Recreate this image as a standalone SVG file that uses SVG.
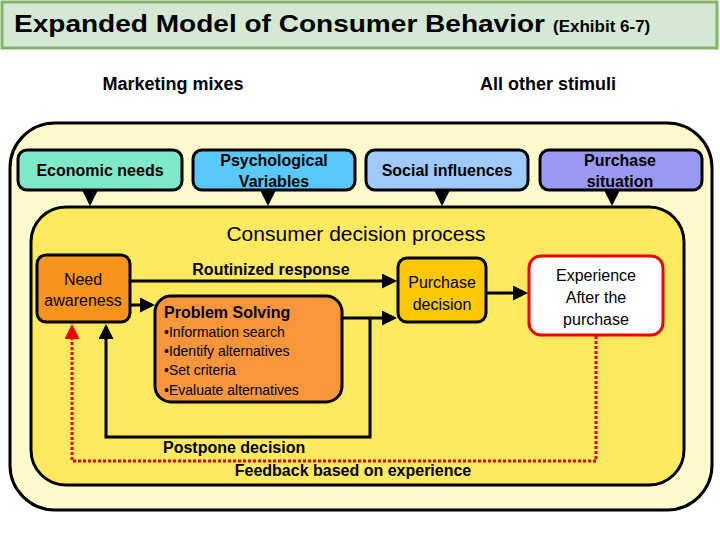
<svg xmlns="http://www.w3.org/2000/svg" width="720" height="540" viewBox="0 0 720 540">
<defs>
<style>
text{font-family:"Liberation Sans",Arial,sans-serif;fill:#000}
.b{font-weight:bold}
.box{stroke:#000;stroke-width:3}
.ln{stroke:#000;stroke-width:3;fill:none}
.red{stroke:#e00;stroke-width:3;fill:none;stroke-dasharray:3 2}
</style>
<marker id="a" markerWidth="5" markerHeight="5" refX="4" refY="2.5" orient="auto" markerUnits="strokeWidth"><path d="M0,0L5,2.5L0,5z" fill="#000"/></marker>
<marker id="r" markerWidth="5" markerHeight="5" refX="4" refY="2.5" orient="auto" markerUnits="strokeWidth"><path d="M0,0L5,2.5L0,5z" fill="#e00"/></marker>
</defs>
<rect width="720" height="540" fill="#fff"/>
<g id="title"><rect x="2" y="2" width="715" height="46" fill="#d5e8d4" stroke="#82b366" stroke-width="3"/>
<text x="14" y="32" font-size="24" class="b" textLength="531" lengthAdjust="spacingAndGlyphs">Expanded Model of Consumer Behavior</text>
<text x="553" y="32" font-size="17" class="b">(Exhibit 6-7)</text></g>
<text x="173" y="90" font-size="18" text-anchor="middle" class="b">Marketing mixes</text>
<text x="548" y="90" font-size="18" text-anchor="middle" class="b">All other stimuli</text>
<g id="outer"><rect x="10" y="123" width="702" height="387" rx="45" fill="#fffacc" stroke="#000" stroke-width="3"/></g>
<g id="inner"><rect x="31" y="207" width="653" height="278" rx="35" fill="#fee95f" stroke="#000" stroke-width="3"/>
<text x="356" y="241" font-size="21" text-anchor="middle">Consumer decision process</text></g>
<g id="econ"><rect class="box" x="18" y="150" width="164" height="40" rx="9" fill="#7fe8c8"/><text x="100" y="176" font-size="16" text-anchor="middle" class="b">Economic needs</text></g>
<g id="psych"><rect class="box" x="193" y="150" width="162" height="40" rx="9" fill="#5ac8fa"/><text x="274" y="166" font-size="16" text-anchor="middle" class="b">Psychological</text><text x="274" y="187" font-size="16" text-anchor="middle" class="b">Variables</text></g>
<g id="social"><rect class="box" x="366" y="150" width="162" height="40" rx="9" fill="#9fcbfa"/><text x="447" y="176" font-size="16" text-anchor="middle" class="b">Social influences</text></g>
<g id="situation"><rect class="box" x="540" y="150" width="162" height="40" rx="9" fill="#9a9af5"/><text x="620" y="166" font-size="16" text-anchor="middle" class="b">Purchase</text><text x="620" y="187" font-size="16" text-anchor="middle" class="b">situation</text></g>
<g id="need"><rect class="box" x="37" y="255" width="93" height="67" rx="9" fill="#f7941d"/><text x="83" y="285" font-size="16" text-anchor="middle">Need</text><text x="83" y="306" font-size="16" text-anchor="middle">awareness</text></g>
<g id="problem"><rect class="box" x="155" y="296" width="187" height="106" rx="16" fill="#f9963c"/>
<text x="164" y="318" font-size="16" class="b">Problem Solving</text>
<text x="164" y="337" font-size="14">•Information search</text><text x="164" y="356" font-size="14">•Identify alternatives</text><text x="164" y="375" font-size="14">•Set criteria</text><text x="164" y="395" font-size="14">•Evaluate alternatives</text></g>
<g id="decision"><rect class="box" x="398" y="258" width="88" height="64" rx="9" fill="#fcc800"/><text x="442" y="288" font-size="16" text-anchor="middle">Purchase</text><text x="442" y="310" font-size="16" text-anchor="middle">decision</text></g>
<g id="experience"><rect x="529" y="256" width="134" height="79" rx="12" fill="#fff" stroke="#e00" stroke-width="3"/><text x="596" y="281" font-size="16" text-anchor="middle">Experience</text><text x="596" y="303" font-size="16" text-anchor="middle">After the</text><text x="596" y="325" font-size="16" text-anchor="middle">purchase</text></g>
<g id="connectors">
<path class="ln" d="M90,190V203" marker-end="url(#a)"/>
<path class="ln" d="M268,190V203" marker-end="url(#a)"/>
<path class="ln" d="M442,190V203" marker-end="url(#a)"/>
<path class="ln" d="M612,190V203" marker-end="url(#a)"/>
<path class="ln" d="M130,281H394" marker-end="url(#a)"/>
<path class="ln" d="M130,305H152" marker-end="url(#a)"/>
<path class="ln" d="M342,318H394" marker-end="url(#a)"/>
<path class="ln" d="M370,318V437H106V327" marker-end="url(#a)"/>
<path class="ln" d="M486,293H525" marker-end="url(#a)"/>
<path class="red" d="M596,336V461H72V327" marker-end="url(#r)"/>
<text x="163" y="453" font-size="16" class="b">Postpone decision</text>
<text x="353" y="476" font-size="16" text-anchor="middle" class="b">Feedback based on experience</text>
<text x="271" y="275" font-size="16" text-anchor="middle" class="b">Routinized response</text>
</g>
</svg>
